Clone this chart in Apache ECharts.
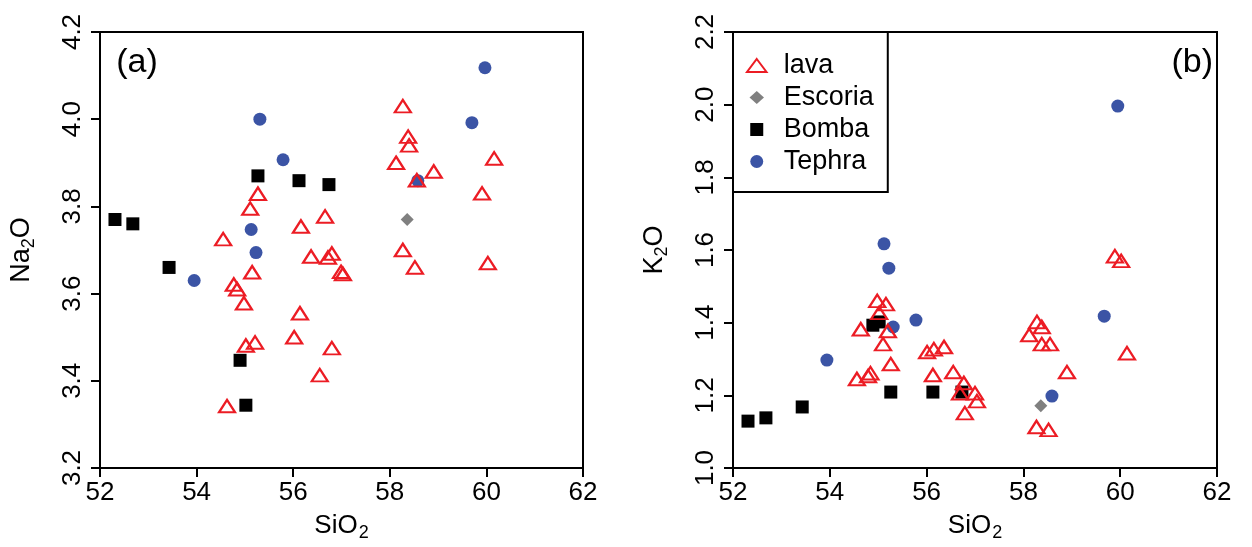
<!DOCTYPE html>
<html><head><meta charset="utf-8">
<script src="https://cdn.jsdelivr.net/npm/echarts@6/dist/echarts.min.js"></script>
<style>html,body{margin:0;padding:0;background:#fff}#c{width:1252px;height:547px}</style>
</head><body><div id="c"></div>
<script>
// ---- data ----
const seriesNames = ['lava', 'Escoria', 'Bomba', 'Tephra'];
const xRange = [52, 62, 2];          // SiO2 min, max, step
const na2oRange = [3.2, 4.2, 0.2];   // Na2O min, max, step
const k2oRange = [1.0, 2.2, 0.2];    // K2O min, max, step

// panel (a): [SiO2, Na2O]
const lavaA = [[58.27,4.03],[58.38,3.96],[58.40,3.94],[58.13,3.90],[58.91,3.88],[58.56,3.86],[60.16,3.91],[59.91,3.83],
  [58.27,3.70],[58.52,3.66],[60.03,3.67],[57.03,3.645],[56.99,3.65],[56.80,3.475],[54.55,3.725],[56.37,3.685],
  [56.72,3.683],[56.80,3.692],[55.15,3.649],[54.77,3.621],[54.84,3.610],[54.98,3.578],[56.14,3.555],[56.02,3.500],
  [55.02,3.481],[55.21,3.488],[56.55,3.413],[54.63,3.342],[55.27,3.829],[55.11,3.795],[56.16,3.754],[56.66,3.777]];
const escoriaA = [[58.36,3.77]];
const bombaA = [[52.31,3.77],[52.68,3.76],[53.43,3.66],[55.27,3.87],[56.12,3.859],[56.74,3.85],[54.90,3.447],[55.02,3.344]];
const tephraA = [[55.31,4.00],[55.79,3.907],[55.13,3.747],[55.23,3.694],[53.95,3.630],[59.97,4.118],[59.70,3.992],[58.58,3.859]];

// panel (b): [SiO2, K2O]
const lavaB = [[54.98,1.46],[55.16,1.451],[55.02,1.427],[54.64,1.382],[55.20,1.377],[55.10,1.341],[55.26,1.286],
  [54.56,1.245],[54.79,1.253],[54.84,1.261],[56.01,1.319],[56.15,1.327],[56.36,1.333],[56.13,1.256],[56.55,1.264],
  [56.77,1.234],[56.69,1.206],[57.00,1.206],[57.04,1.184],[56.79,1.151],[58.28,1.402],[58.38,1.388],[58.12,1.366],
  [58.38,1.341],[58.55,1.341],[58.90,1.264],[58.27,1.113],[58.52,1.105],[59.89,1.583],[60.02,1.570],[60.14,1.316]];
const escoriaB = [[58.36,1.171]];
const bombaB = [[52.31,1.129],[52.68,1.138],[53.43,1.168],[54.89,1.393],[55.02,1.402],[55.26,1.209],[56.13,1.209],[56.73,1.209]];
const tephraB = [[55.12,1.617],[55.22,1.55],[55.31,1.388],[55.78,1.407],[53.94,1.297],[59.67,1.418],[58.59,1.198],[59.95,1.996]];

// ---- styles ----
const FONT = 'Liberation Sans, Arial, sans-serif';
const RED = '#ec1c24', BLUE = '#3b54a5', GRAY = '#808080', BLACK = '#000';
const styles = {
  lava:    {symbol: 'triangle', symbolSize: [16, 12.5], itemStyle: {color: 'rgba(255,255,255,0)', borderColor: RED, borderWidth: 2.2, opacity: 1}},
  Escoria: {symbol: 'diamond', symbolSize: 13, itemStyle: {color: GRAY, opacity: 1}},
  Bomba:   {symbol: 'rect', symbolSize: 13, itemStyle: {color: BLACK, opacity: 1}},
  Tephra:  {symbol: 'circle', symbolSize: 13, itemStyle: {color: BLUE, opacity: 1}}
};
const legendIcons = {
  lava: 'path://M9,0L18,12L0,12Z',
  Escoria: 'path://M5,0L10,4.5L5,9L0,4.5Z',
  Bomba: 'path://M0,0L10,0L10,10L0,10Z',
  Tephra: 'circle'
};

function xAxis(gi) {
  return {
    gridIndex: gi, type: 'value', min: xRange[0], max: xRange[1], interval: xRange[2],
    name: '{n|SiO}{s|2}', nameLocation: 'middle', nameGap: 42,
    nameTextStyle: {rich: {n: {fontSize: 26, fontFamily: FONT, color: BLACK}, s: {fontSize: 18, fontFamily: FONT, color: BLACK, padding: [14, 0, 0, 1]}}},
    axisLine: {show: true, onZero: false, lineStyle: {color: BLACK, width: 2}},
    axisTick: {show: true, length: 9, lineStyle: {color: BLACK, width: 2}},
    axisLabel: {fontSize: 26, fontFamily: FONT, color: BLACK, margin: 12, showMinLabel: true, showMaxLabel: true},
    splitLine: {show: false}
  };
}
function yAxis(gi, range, el) {
  return {
    gridIndex: gi, type: 'value', min: range[0], max: range[1], interval: range[2],
    name: '{n|' + el + '}{s|2}{n|O}', nameLocation: 'middle', nameGap: 62, nameRotate: 90,
    nameTextStyle: {rich: {n: {fontSize: 27, fontFamily: FONT, color: BLACK}, s: {fontSize: 18, fontFamily: FONT, color: BLACK, padding: [14, 0, 0, 0]}}},
    axisLine: {show: true, onZero: false, lineStyle: {color: BLACK, width: 2}},
    axisTick: {show: true, length: 9, lineStyle: {color: BLACK, width: 2}},
    axisLabel: {fontSize: 26, fontFamily: FONT, color: BLACK, margin: 14, rotate: 90,
      formatter: v => v.toFixed(1), showMinLabel: true, showMaxLabel: true},
    splitLine: {show: false}
  };
}

const drawOrder = ['Tephra', 'Escoria', 'Bomba', 'lava'];
const dataA = {lava: lavaA, Escoria: escoriaA, Bomba: bombaA, Tephra: tephraA};
const dataB = {lava: lavaB, Escoria: escoriaB, Bomba: bombaB, Tephra: tephraB};
const series = [];
[dataA, dataB].forEach((d, gi) => {
  drawOrder.forEach(name => {
    series.push(Object.assign({type: 'scatter', name: name, xAxisIndex: gi, yAxisIndex: gi, data: d[name],
      animation: false, emphasis: {disabled: true}}, styles[name]));
  });
});

const chart = echarts.init(document.getElementById('c'), null, {renderer: 'canvas'});
chart.setOption({
  backgroundColor: '#fff',
  animation: false,
  textStyle: {fontFamily: FONT},
  grid: [
    {left: 100, top: 32, width: 483, height: 436, show: true, borderColor: BLACK, borderWidth: 2, containLabel: false, outerBoundsMode: 'none'},
    {left: 733, top: 32, width: 484, height: 436, show: true, borderColor: BLACK, borderWidth: 2, containLabel: false, outerBoundsMode: 'none'}
  ],
  xAxis: [xAxis(0), xAxis(1)],
  yAxis: [yAxis(0, na2oRange, 'Na'), yAxis(1, k2oRange, 'K')],
  legend: {
    data: seriesNames.map(n => ({name: n, icon: legendIcons[n]})),
    orient: 'vertical', left: 733, top: 32,
    padding: [20, 14, 17, 13], itemWidth: 44, itemHeight: 13, itemGap: 5,
    symbolKeepAspect: true,
    borderColor: BLACK, borderWidth: 2, borderRadius: 0, backgroundColor: '#fff',
    selectedMode: false,
    textStyle: {fontSize: 27, fontFamily: FONT, color: BLACK}
  },
  graphic: [
    {type: 'text', x: 137, y: 63, style: {text: '(a)', font: '34px ' + FONT, fill: BLACK, align: 'center', verticalAlign: 'middle'}},
    {type: 'text', x: 1213, y: 63, style: {text: '(b)', font: '34px ' + FONT, fill: BLACK, align: 'right', verticalAlign: 'middle'}}
  ],
  series: series
});
</script></body></html>
